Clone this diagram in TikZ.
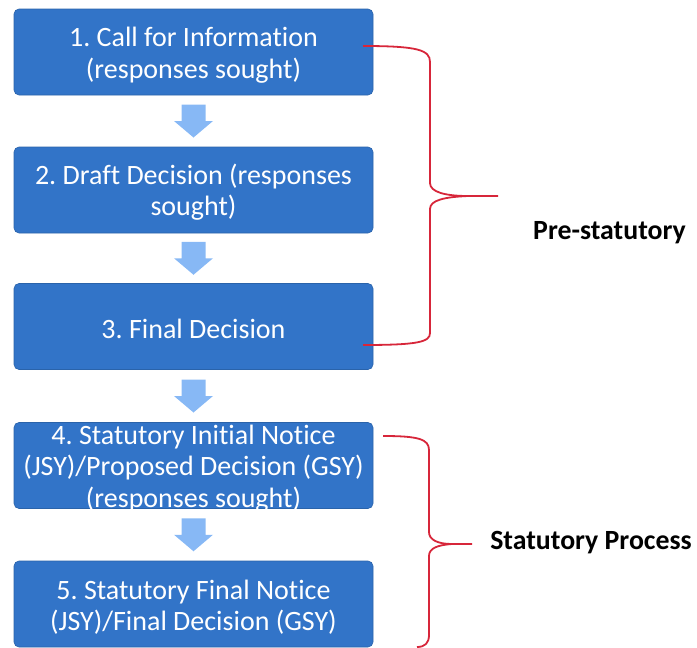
\documentclass[tikz,border=0pt]{standalone}
\usepackage{fontspec}
\setmainfont[Ligatures={NoCommon}]{Carlito}
\frenchspacing
\usetikzlibrary{calc}
\definecolor{boxblue}{RGB}{50,116,200}
\definecolor{arrblue}{RGB}{135,184,245}
\definecolor{bracered}{RGB}{215,38,58}
\tikzset{
  stepbox/.style={fill=boxblue, draw=boxblue!85!black, line width=0.6pt, rounded corners=5pt,
    minimum width=359pt, minimum height=86pt, inner sep=0pt},
  boxtext/.style={text=white, align=center, inner sep=0pt,
    font=\fontsize{28}{31.5}\selectfont},
  blockarr/.style={fill=arrblue},
  bracel/.style={draw=bracered, line width=1.8pt, line join=round},
  lbl/.style={font=\fontsize{27.8}{32}\selectfont\bfseries, text=black, inner sep=0pt}
}
\newcommand{\downarr}[2]{%
  \path ($(#1.south)!0.5!(#2.north)$) coordinate (m#1);
  \fill[blockarr] ([shift={(-12,-16.5)}]m#1) -- ([shift={(12,-16.5)}]m#1) -- ([shift={(12,0)}]m#1)
    -- ([shift={(19.5,0)}]m#1) -- ([shift={(0,16.5)}]m#1) -- ([shift={(-19.5,0)}]m#1)
    -- ([shift={(-12,0)}]m#1) -- cycle;}
\begin{document}
\begin{tikzpicture}[x=1pt,y=-1pt]
\useasboundingbox (0,0) rectangle (697,648);
\node[stepbox] (b1) at (193.5,52) {};
\node[stepbox] (b2) at (193.5,190) {};
\node[stepbox] (b3) at (193.5,326.5) {};
\node[stepbox] (b4) at (193.5,465.5) {};
\node[stepbox] (b5) at (193.5,604) {};
\node[boxtext] (t1) at ([yshift=-3pt]b1.center) {1. Call for Information\\(responses sought)};
\node[boxtext] (t2) at ([yshift=-2pt]b2.center) {2. Draft Decision (responses\\sought)};
\node[boxtext] (t3) at ([yshift=-2pt]b3.center) {3. Final Decision};
\node[boxtext] (t4) at ([yshift=-3pt]b4.center) {4. Statutory Initial Notice\\(JSY)/Proposed Decision (GSY)\\(responses sought)};
\node[boxtext] (t5) at ([yshift=-3pt]b5.center) {5. Statutory Final Notice\\(JSY)/Final Decision (GSY)};
\downarr{b1}{b2}
\downarr{b2}{b3}
\downarr{b3}{b4}
\downarr{b4}{b5}
\node[lbl] (pre) at (609.5,233) {Pre-statutory};
\node[lbl] (stat) at (591,543) {Statutory Process};
% brace 1
\coordinate (p1a) at (363,46);
\coordinate (p1b) at (363,345);
\coordinate (p1t) at (498,196);
\draw[bracel] (p1a) .. controls (418,46) and (430,50) .. (430,62) -- (430,183)
  .. controls (430,192) and (445,196) .. (468,196) -- (p1t);
\draw[bracel] (468,196) .. controls (445,197) and (430,200) .. (430,209) -- (430,333)
  .. controls (430,342) and (418,345) .. (p1b);
% brace 2
\coordinate (p2a) at (383,436);
\coordinate (p2b) at (417,647);
\coordinate (p2t) at (472,544);
\draw[bracel] (p2a) .. controls (418,436) and (429,439) .. (429,450) -- (429,532)
  .. controls (429,540) and (438,544) .. (452,544) -- (p2t);
\draw[bracel] (452,544) .. controls (438,545) and (429,548) .. (429,556) -- (429,635)
  .. controls (429,643) and (425,647) .. (p2b);
\end{tikzpicture}
\end{document}
